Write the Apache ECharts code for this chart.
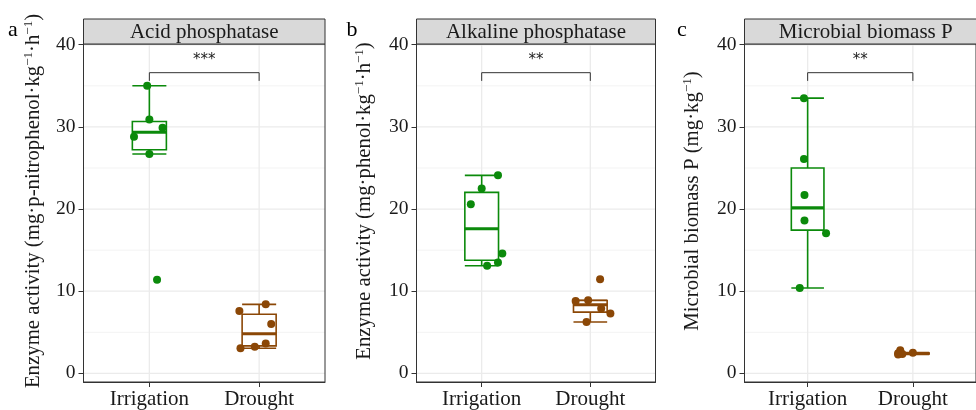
<!DOCTYPE html>
<html lang="en">
<head>
    <meta charset="utf-8">
    <title>Phosphatase activity and microbial biomass P</title>
    <script src="https://cdn.jsdelivr.net/npm/echarts@6.0.0/dist/echarts.min.js"></script>
    <style>
        html, body { margin: 0; padding: 0; background: #fff; }
        #chart { width: 976px; height: 410px; }
    </style>
</head>
<body>
    <div id="chart"></div>
    <script type="text/javascript">
        // ---- data ----
        var categories = ['Irrigation', 'Drought'];
        var panelTitles = ['Acid phosphatase', 'Alkaline phosphatase', 'Microbial biomass P'];
        var panelTags = ['a', 'b', 'c'];
        // {s|...} = superscript
        var yTitles = [
            '{n|Enzyme activity (mg·p-nitrophenol·kg}{s|−1}{n|·h}{s|−1}{n|)}',
            '{n|Enzyme activity (mg·phenol·kg}{s|−1}{n|·h}{s|−1}{n|)}',
            '{n|Microbial biomass P (mg·kg}{s|−1}{n|)}'
        ];
        var signifLabels = ['***', '**', '**'];
        var yTicks = [0, 10, 20, 30, 40];
        var yMinorTicks = [5, 15, 25, 35];

        // 6 replicates per group
        var acidIrrigation = [35.0, 30.9, 29.9, 28.8, 26.7, 11.4];
        var acidDrought = [8.4, 7.6, 6.0, 3.65, 3.25, 3.05];
        var alkIrrigation = [24.1, 22.5, 20.6, 14.6, 13.5, 13.1];
        var alkDrought = [11.45, 8.9, 8.8, 7.9, 7.3, 6.25];
        var mbpIrrigation = [33.5, 26.1, 21.7, 18.6, 17.05, 10.4];
        var mbpDrought = [2.8, 2.5, 2.45, 2.4, 2.35, 2.3];

        // jitter of each point along x (category units)
        var acidIrrJitter = [-0.02, 0, 0.12, -0.14, 0, 0.07];
        var acidDroJitter = [0.06, -0.18, 0.11, 0.06, -0.04, -0.17];
        var alkIrrJitter = [0.15, 0, -0.10, 0.19, 0.15, 0.05];
        var alkDroJitter = [0.09, -0.02, -0.135, 0.10, 0.185, -0.035];
        var mbpIrrJitter = [-0.035, -0.035, -0.03, -0.03, 0.175, -0.075];
        var mbpDroJitter = [-0.12, 0.0, -0.14, -0.13, -0.1, -0.14];

        // bracket height, leg end for the significance marks
        var bracketTop = 36.6;
        var bracketLeg = 35.6;
        var starLevel = 38.1;

        // ---- layout / style ----
        var GREEN = '#0b8a0b';
        var BROWN = '#8b4706';
        var FRAME = '#333333';
        var SERIF = '"Liberation Serif", "Times New Roman", "DejaVu Serif", serif';
        var gridLefts = [83.5, 416.5, 744.5];
        var gridWidths = [241.5, 239, 242.5];
        var gridTop = 44;
        var gridHeight = 338;
        var yTitleX = [34, 365, 693];
        var tagX = [13, 352, 682];
        var X_MIN = 0.4, X_MAX = 2.6, Y_MIN = -1.05, Y_MAX = 40.09;
        var BOX_HALF = 0.155;

        var panels = [
            { irr: acidIrrigation, dro: acidDrought, irrJ: acidIrrJitter, droJ: acidDroJitter },
            { irr: alkIrrigation, dro: alkDrought, irrJ: alkIrrJitter, droJ: alkDroJitter },
            { irr: mbpIrrigation, dro: mbpDrought, irrJ: mbpIrrJitter, droJ: mbpDroJitter }
        ];

        function quantile(sorted, p) {
            var pos = (sorted.length - 1) * p, lo = Math.floor(pos), hi = Math.ceil(pos);
            return sorted[lo] + (sorted[hi] - sorted[lo]) * (pos - lo);
        }
        // q1, median, q3, lower whisker, upper whisker (Tukey)
        function boxStats(vals) {
            var s = vals.slice().sort(function (a, b) { return a - b; });
            var q1 = quantile(s, 0.25), med = quantile(s, 0.5), q3 = quantile(s, 0.75), iqr = q3 - q1;
            var inside = s.filter(function (v) { return v >= q1 - 1.5 * iqr && v <= q3 + 1.5 * iqr; });
            return [q1, med, q3, inside[0], inside[inside.length - 1]];
        }

        function renderGridLines(params, api) {
            var kind = api.value(0), v = api.value(1);
            var p1, p2;
            if (kind === 2) {
                p1 = api.coord([v, Y_MIN]); p2 = api.coord([v, Y_MAX]);
            } else {
                p1 = api.coord([X_MIN, v]); p2 = api.coord([X_MAX, v]);
            }
            return {
                type: 'line',
                shape: { x1: p1[0], y1: p1[1], x2: p2[0], y2: p2[1] },
                style: { stroke: kind === 1 ? '#f3f3f3' : '#ebebeb', lineWidth: kind === 1 ? 1 : 1.3 }
            };
        }

        function renderBox(params, api) {
            var x = api.value(0);
            var q1 = api.value(1), med = api.value(2), q3 = api.value(3), lo = api.value(4), hi = api.value(5);
            var col = params.dataIndex === 0 ? GREEN : BROWN;
            var a = api.coord([x - BOX_HALF, q3]);
            var b = api.coord([x + BOX_HALF, q1]);
            var m = api.coord([x, med]);
            var top = api.coord([x, hi]);
            var bot = api.coord([x, lo]);
            var line = function (x1, y1, x2, y2, w) {
                return { type: 'line', shape: { x1: x1, y1: y1, x2: x2, y2: y2 }, style: { stroke: col, lineWidth: w } };
            };
            return {
                type: 'group',
                children: [
                    line(top[0], top[1], top[0], a[1], 1.6),
                    line(bot[0], b[1], bot[0], bot[1], 1.6),
                    line(a[0], top[1], b[0], top[1], 1.6),
                    line(a[0], bot[1], b[0], bot[1], 1.6),
                    {
                        type: 'rect',
                        shape: { x: a[0], y: a[1], width: b[0] - a[0], height: b[1] - a[1] },
                        style: { fill: '#ffffff', stroke: col, lineWidth: 1.6 }
                    },
                    line(a[0], m[1], b[0], m[1], 3.2)
                ]
            };
        }

        function makeBracketRenderer(label) {
            return function (params, api) {
                var l1 = api.coord([api.value(0), api.value(3)]);
                var t1 = api.coord([api.value(0), api.value(2)]);
                var t2 = api.coord([api.value(1), api.value(2)]);
                var l2 = api.coord([api.value(1), api.value(3)]);
                var s = api.coord([(api.value(0) + api.value(1)) / 2, api.value(4)]);
                return {
                    type: 'group',
                    children: [
                        {
                            type: 'polyline',
                            shape: { points: [l1, t1, t2, l2] },
                            style: { stroke: '#333', lineWidth: 1, fill: null }
                        },
                        {
                            type: 'text',
                            style: {
                                text: label, x: s[0], y: s[1],
                                align: 'center', verticalAlign: 'middle',
                                textAlign: 'center', textVerticalAlign: 'middle',
                                font: '15px "DejaVu Sans"', fill: '#222'
                            }
                        }
                    ]
                };
            };
        }

        var grids = [], xAxes = [], yAxes = [], series = [], graphics = [];
        var gridData = [];
        yTicks.forEach(function (v) { gridData.push([0, v]); });
        yMinorTicks.forEach(function (v) { gridData.push([1, v]); });
        gridData.push([2, 1], [2, 2]);

        panels.forEach(function (p, i) {
            grids.push({
                left: gridLefts[i], top: gridTop, width: gridWidths[i], height: gridHeight,
                show: true, borderColor: FRAME, borderWidth: 1, backgroundColor: 'transparent', z: 5
            });
            xAxes.push({
                gridIndex: i, type: 'value', min: X_MIN, max: X_MAX,
                axisLine: { show: true, onZero: false, lineStyle: { color: FRAME, width: 1 } },
                axisTick: { show: true, customValues: [1, 2], length: 5, lineStyle: { color: FRAME } },
                axisLabel: {
                    customValues: [1, 2], margin: 7,
                    formatter: function (v) { return categories[Math.round(v) - 1]; },
                    fontFamily: SERIF, fontSize: 21, color: '#1a1a1a'
                },
                splitLine: { show: false }
            });
            yAxes.push({
                gridIndex: i, type: 'value', min: Y_MIN, max: Y_MAX,
                axisLine: { show: true, onZero: false, lineStyle: { color: FRAME, width: 1 } },
                axisTick: { show: true, customValues: yTicks, length: 5, lineStyle: { color: FRAME } },
                axisLabel: {
                    customValues: yTicks, margin: 8,
                    fontFamily: SERIF, fontSize: 19.5, color: '#1a1a1a'
                },
                splitLine: { show: false }
            });

            series.push({
                type: 'custom', xAxisIndex: i, yAxisIndex: i, silent: true, z: 1,
                renderItem: renderGridLines, data: gridData, clip: true
            });
            var sI = boxStats(p.irr), sD = boxStats(p.dro);
            series.push({
                type: 'custom', xAxisIndex: i, yAxisIndex: i, silent: true, z: 2,
                renderItem: renderBox,
                data: [[1].concat(sI), [2].concat(sD)]
            });
            series.push({
                type: 'scatter', xAxisIndex: i, yAxisIndex: i, silent: true, z: 3,
                symbolSize: 8, itemStyle: { color: GREEN, opacity: 1 },
                data: p.irr.map(function (v, k) { return [1 + p.irrJ[k], v]; })
            });
            series.push({
                type: 'scatter', xAxisIndex: i, yAxisIndex: i, silent: true, z: 3,
                symbolSize: 8, itemStyle: { color: BROWN, opacity: 1 },
                data: p.dro.map(function (v, k) { return [2 + p.droJ[k], v]; })
            });
            series.push({
                type: 'custom', xAxisIndex: i, yAxisIndex: i, silent: true, z: 4,
                renderItem: makeBracketRenderer(signifLabels[i]),
                data: [[1, 2, bracketTop, bracketLeg, starLevel]]
            });

            // facet strip
            graphics.push({
                type: 'rect', silent: true, z: 10,
                shape: { x: gridLefts[i], y: 19, width: gridWidths[i], height: gridTop - 19 },
                style: { fill: '#d9d9d9', stroke: FRAME, lineWidth: 1 }
            });
            graphics.push({
                type: 'text', silent: true, z: 11,
                x: gridLefts[i] + gridWidths[i] / 2, y: 19 + (gridTop - 19) / 2 + 1,
                style: {
                    text: panelTitles[i], font: '21px ' + SERIF, fill: '#1a1a1a',
                    align: 'center', verticalAlign: 'middle', textAlign: 'center', textVerticalAlign: 'middle'
                }
            });
            // y-axis title
            graphics.push({
                type: 'text', silent: true, z: 11,
                x: yTitleX[i], y: 201, rotation: Math.PI / 2,
                style: {
                    text: yTitles[i], fill: '#1a1a1a',
                    align: 'center', verticalAlign: 'middle', textAlign: 'center', textVerticalAlign: 'middle',
                    rich: {
                        n: { fontFamily: SERIF, fontSize: 20.8, lineHeight: 24, verticalAlign: 'middle' },
                        s: { fontFamily: SERIF, fontSize: 13, lineHeight: 24, verticalAlign: 'top', padding: [0, 0, 0, 0] }
                    }
                }
            });
            // panel tag
            graphics.push({
                type: 'text', silent: true, z: 11,
                x: tagX[i], y: 30,
                style: {
                    text: panelTags[i], font: '22px ' + SERIF, fill: '#000',
                    align: 'center', verticalAlign: 'middle', textAlign: 'center', textVerticalAlign: 'middle'
                }
            });
        });

        var mychart = echarts.init(document.getElementById('chart'), null, { renderer: 'canvas' });
        mychart.setOption({
            animation: false,
            backgroundColor: '#fff',
            grid: grids,
            xAxis: xAxes,
            yAxis: yAxes,
            series: series,
            graphic: graphics
        });
    </script>
</body>
</html>
